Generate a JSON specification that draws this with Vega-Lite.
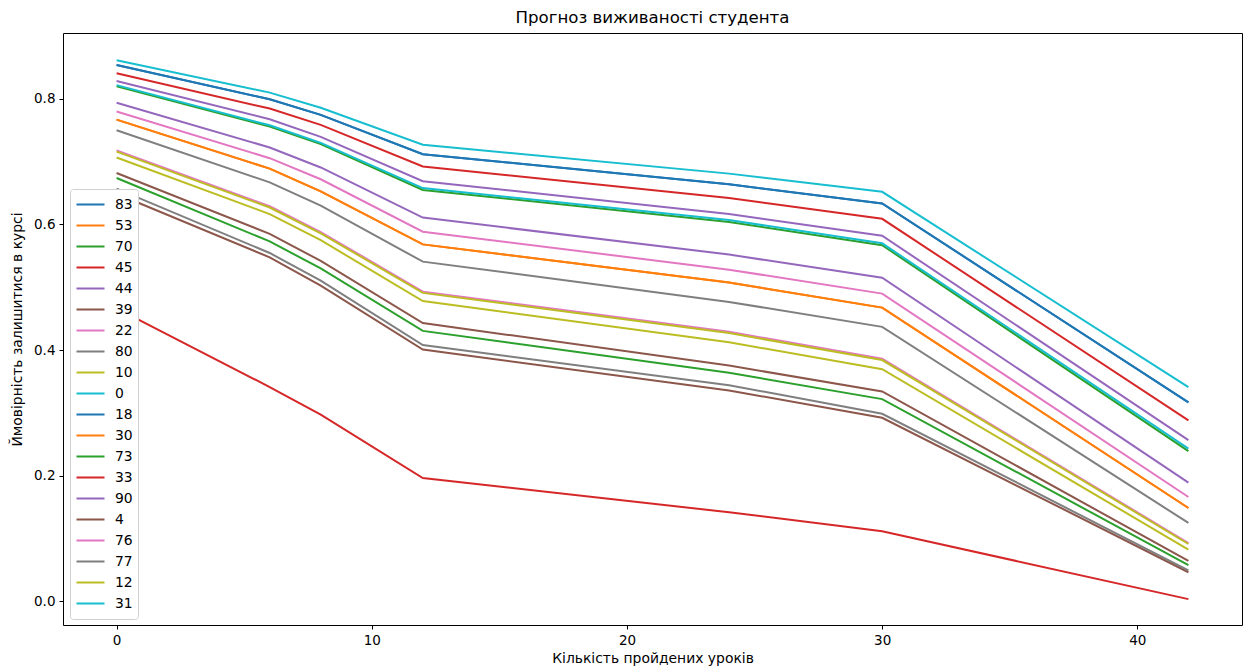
{
  "$schema": "https://vega.github.io/schema/vega-lite/v6.json",
  "width": 1179,
  "height": 592,
  "autosize": {"type": "none"},
  "padding": {"left": 63, "top": 33, "right": 3, "bottom": 44},
  "background": "white",
  "title": {"text": "Прогноз виживаності студента", "font": "DejaVu Sans", "fontSize": 16.6, "fontWeight": "normal", "color": "black", "offset": 6},
  "config": {
    "view": {"stroke": "black", "strokeWidth": 1},
    "axis": {"domain": false, "grid": false, "tickColor": "black", "tickSize": 4, "labelFont": "DejaVu Sans", "labelFontSize": 13.5, "labelColor": "black", "titleFont": "DejaVu Sans", "titleFontSize": 13.9, "titleFontWeight": "normal", "titleColor": "black", "labelPadding": 4},
    "legend": {"labelFont": "DejaVu Sans", "labelFontSize": 13.9, "labelColor": "black"}
  },
  "data": {"values": [
    {"s":"83","x":0,"y":0.854},{"s":"83","x":6,"y":0.7995},{"s":"83","x":8,"y":0.7746},{"s":"83","x":12,"y":0.712},{"s":"83","x":24,"y":0.664},{"s":"83","x":30,"y":0.6335},{"s":"83","x":42,"y":0.3165},
    {"s":"53","x":0,"y":0.767},{"s":"53","x":6,"y":0.689},{"s":"53","x":8,"y":0.6526},{"s":"53","x":12,"y":0.5683},{"s":"53","x":24,"y":0.5074},{"s":"53","x":30,"y":0.4676},{"s":"53","x":42,"y":0.1484},
    {"s":"70","x":0,"y":0.820},{"s":"70","x":6,"y":0.756},{"s":"70","x":8,"y":0.728},{"s":"70","x":12,"y":0.655},{"s":"70","x":24,"y":0.604},{"s":"70","x":30,"y":0.567},{"s":"70","x":42,"y":0.239},
    {"s":"45","x":0,"y":0.841},{"s":"45","x":6,"y":0.7846},{"s":"45","x":8,"y":0.7587},{"s":"45","x":12,"y":0.6924},{"s":"45","x":24,"y":0.642},{"s":"45","x":30,"y":0.609},{"s":"45","x":42,"y":0.288},
    {"s":"44","x":0,"y":0.8286},{"s":"44","x":6,"y":0.7677},{"s":"44","x":8,"y":0.7396},{"s":"44","x":12,"y":0.669},{"s":"44","x":24,"y":0.6166},{"s":"44","x":30,"y":0.582},{"s":"44","x":42,"y":0.2566},
    {"s":"39","x":0,"y":0.682},{"s":"39","x":6,"y":0.585},{"s":"39","x":8,"y":0.542},{"s":"39","x":12,"y":0.443},{"s":"39","x":24,"y":0.3753},{"s":"39","x":30,"y":0.334},{"s":"39","x":42,"y":0.0641},
    {"s":"22","x":0,"y":0.780},{"s":"22","x":6,"y":0.7056},{"s":"22","x":8,"y":0.672},{"s":"22","x":12,"y":0.5885},{"s":"22","x":24,"y":0.528},{"s":"22","x":30,"y":0.4899},{"s":"22","x":42,"y":0.1659},
    {"s":"80","x":0,"y":0.750},{"s":"80","x":6,"y":0.667},{"s":"80","x":8,"y":0.630},{"s":"80","x":12,"y":0.5408},{"s":"80","x":24,"y":0.4766},{"s":"80","x":30,"y":0.4369},{"s":"80","x":42,"y":0.1246},
    {"s":"10","x":0,"y":0.7067},{"s":"10","x":6,"y":0.6166},{"s":"10","x":8,"y":0.575},{"s":"10","x":12,"y":0.478},{"s":"10","x":24,"y":0.4124},{"s":"10","x":30,"y":0.3695},{"s":"10","x":42,"y":0.0822},
    {"s":"0","x":0,"y":0.8615},{"s":"0","x":6,"y":0.810},{"s":"0","x":8,"y":0.786},{"s":"0","x":12,"y":0.727},{"s":"0","x":24,"y":0.681},{"s":"0","x":30,"y":0.652},{"s":"0","x":42,"y":0.341},
    {"s":"18","x":0,"y":0.854},{"s":"18","x":6,"y":0.7995},{"s":"18","x":8,"y":0.7746},{"s":"18","x":12,"y":0.712},{"s":"18","x":24,"y":0.664},{"s":"18","x":30,"y":0.6335},{"s":"18","x":42,"y":0.3165},
    {"s":"30","x":0,"y":0.767},{"s":"30","x":6,"y":0.689},{"s":"30","x":8,"y":0.6526},{"s":"30","x":12,"y":0.5683},{"s":"30","x":24,"y":0.5074},{"s":"30","x":30,"y":0.4676},{"s":"30","x":42,"y":0.1484},
    {"s":"73","x":0,"y":0.674},{"s":"73","x":6,"y":0.573},{"s":"73","x":8,"y":0.530},{"s":"73","x":12,"y":0.4305},{"s":"73","x":24,"y":0.3637},{"s":"73","x":30,"y":0.3218},{"s":"73","x":42,"y":0.0573},
    {"s":"33","x":0,"y":0.4665},{"s":"33","x":6,"y":0.341},{"s":"33","x":8,"y":0.297},{"s":"33","x":12,"y":0.196},{"s":"33","x":24,"y":0.1416},{"s":"33","x":30,"y":0.1113},{"s":"33","x":42,"y":0.0032},
    {"s":"90","x":0,"y":0.794},{"s":"90","x":6,"y":0.7226},{"s":"90","x":8,"y":0.6908},{"s":"90","x":12,"y":0.611},{"s":"90","x":24,"y":0.552},{"s":"90","x":30,"y":0.5153},{"s":"90","x":42,"y":0.1887},
    {"s":"4","x":0,"y":0.649},{"s":"4","x":6,"y":0.5476},{"s":"4","x":8,"y":0.5026},{"s":"4","x":12,"y":0.4008},{"s":"4","x":24,"y":0.3356},{"s":"4","x":30,"y":0.2921},{"s":"4","x":42,"y":0.046},
    {"s":"76","x":0,"y":0.718},{"s":"76","x":6,"y":0.629},{"s":"76","x":8,"y":0.588},{"s":"76","x":12,"y":0.493},{"s":"76","x":24,"y":0.429},{"s":"76","x":30,"y":0.386},{"s":"76","x":42,"y":0.0925},
    {"s":"77","x":0,"y":0.657},{"s":"77","x":6,"y":0.5546},{"s":"77","x":8,"y":0.5105},{"s":"77","x":12,"y":0.408},{"s":"77","x":24,"y":0.344},{"s":"77","x":30,"y":0.2985},{"s":"77","x":42,"y":0.049},
    {"s":"12","x":0,"y":0.716},{"s":"12","x":6,"y":0.627},{"s":"12","x":8,"y":0.586},{"s":"12","x":12,"y":0.491},{"s":"12","x":24,"y":0.427},{"s":"12","x":30,"y":0.384},{"s":"12","x":42,"y":0.091},
    {"s":"31","x":0,"y":0.822},{"s":"31","x":6,"y":0.758},{"s":"31","x":8,"y":0.730},{"s":"31","x":12,"y":0.658},{"s":"31","x":24,"y":0.607},{"s":"31","x":30,"y":0.570},{"s":"31","x":42,"y":0.243}
  ]},
  "mark": {"type": "line", "strokeWidth": 2, "clip": true},
  "encoding": {
    "x": {"field": "x", "type": "quantitative", "scale": {"domain": [-2.1, 44.1], "nice": false, "zero": false},
      "axis": {"values": [0, 10, 20, 30, 40], "title": "Кількість пройдених уроків", "titlePadding": 5}},
    "y": {"field": "y", "type": "quantitative", "scale": {"domain": [-0.038, 0.905], "nice": false, "zero": false},
      "axis": {"values": [0, 0.2, 0.4, 0.6, 0.8], "format": ".1f", "title": "Ймовірність залишитися в курсі", "titlePadding": 9}},
    "color": {"field": "s", "type": "nominal",
      "scale": {"domain": ["83","53","70","45","44","39","22","80","10","0","18","30","73","33","90","4","76","77","12","31"],
        "range": ["#1f77b4","#ff7f0e","#2ca02c","#d62728","#9467bd","#8c564b","#e377c2","#7f7f7f","#bcbd22","#17becf","#1f77b4","#ff7f0e","#2ca02c","#d62728","#9467bd","#8c564b","#e377c2","#7f7f7f","#bcbd22","#17becf"]},
      "legend": {"title": null, "orient": "none", "legendX": 7, "legendY": 156, "symbolType": "stroke", "symbolSize": 784, "symbolStrokeWidth": 2.1, "rowPadding": 0, "labelOffset": 9, "padding": 5, "fillColor": "white", "strokeColor": "#d0d0d0", "cornerRadius": 3, "clipHeight": 21}
    }
  }
}
